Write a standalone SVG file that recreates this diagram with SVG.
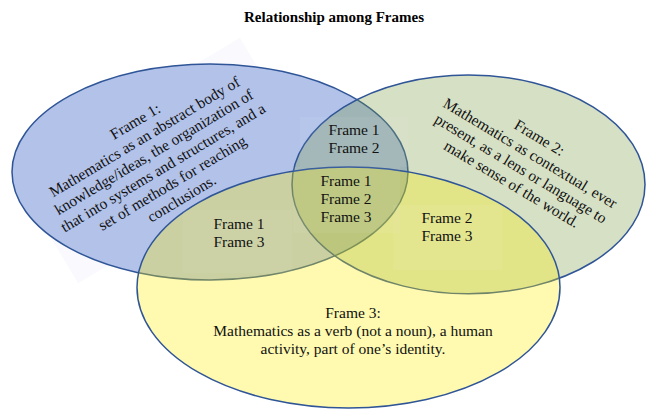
<svg xmlns="http://www.w3.org/2000/svg" width="646" height="409" viewBox="0 0 646 409">
<style>
.t{font-family:"Liberation Serif","Times New Roman",serif;font-size:15.5px;fill:#111;text-anchor:middle}
.title{font-family:"Liberation Serif","Times New Roman",serif;font-size:15px;font-weight:bold;fill:#000;text-anchor:middle}
.e{stroke:#2f5597;stroke-width:1.5}
.box{fill:#ffffff;fill-opacity:0.06}
</style>
<rect width="646" height="409" fill="#ffffff"/>
<text class="title" x="334" y="22">Relationship among Frames</text>
<g id="frame1-box">
<rect x="-132.5" y="-63.5" width="265" height="127" fill="#f9f9fe" transform="translate(159,160.5) rotate(-31)"/>
</g>
<g id="frame1">
<ellipse class="e" cx="210" cy="172" rx="198" ry="108" fill="#b2c2e9"/>
</g>
<g id="frame2">
<ellipse class="e" cx="468.5" cy="184.4" rx="176.5" ry="109.4" fill="#729437" fill-opacity="0.29"/>
</g>
<g id="frame3">
<ellipse class="e" cx="348.5" cy="287.5" rx="211.5" ry="120.5" fill="#ffef00" fill-opacity="0.31"/>
</g>
<g id="label-boxes">
<rect class="box" x="300" y="117" width="108" height="50"/>
<rect class="box" x="293" y="167" width="107" height="66"/>
<rect class="box" x="183" y="210" width="109" height="63"/>
<rect class="box" x="393" y="205" width="109" height="65"/>
</g>
<g id="frame1-text" transform="translate(158.5,160) rotate(-31)">
<text class="t" x="0" y="-40">Frame 1:</text>
<text class="t" x="0" y="-22">Mathematics as an abstract body of</text>
<text class="t" x="0" y="-4">knowledge/ideas, the organization of</text>
<text class="t" x="0" y="14">that into systems and structures, and a</text>
<text class="t" x="0" y="32">set of methods for reaching</text>
<text class="t" x="0" y="50">conclusions.</text>
</g>
<g id="frame2-text" transform="translate(525.5,161) rotate(31)">
<text class="t" x="0" y="-22">Frame 2:</text>
<text class="t" x="0" y="-4">Mathematics as contextual, ever</text>
<text class="t" x="0" y="14">present, as a lens or language to</text>
<text class="t" x="0" y="32">make sense of the world.</text>
</g>
<g id="frame3-text">
<text class="t" x="353" y="318">Frame 3:</text>
<text class="t" x="353" y="336">Mathematics as a verb (not a noun), a human</text>
<text class="t" x="353" y="354">activity, part of one’s identity.</text>
</g>
<g id="f12">
<text class="t" x="354" y="135">Frame 1</text>
<text class="t" x="354" y="153">Frame 2</text>
</g>
<g id="f123">
<text class="t" x="346" y="186">Frame 1</text>
<text class="t" x="346" y="204">Frame 2</text>
<text class="t" x="346" y="222">Frame 3</text>
</g>
<g id="f13">
<text class="t" x="239" y="229">Frame 1</text>
<text class="t" x="239" y="247">Frame 3</text>
</g>
<g id="f23">
<text class="t" x="447" y="223">Frame 2</text>
<text class="t" x="447" y="241">Frame 3</text>
</g>
<g id="connectors"/>
</svg>
